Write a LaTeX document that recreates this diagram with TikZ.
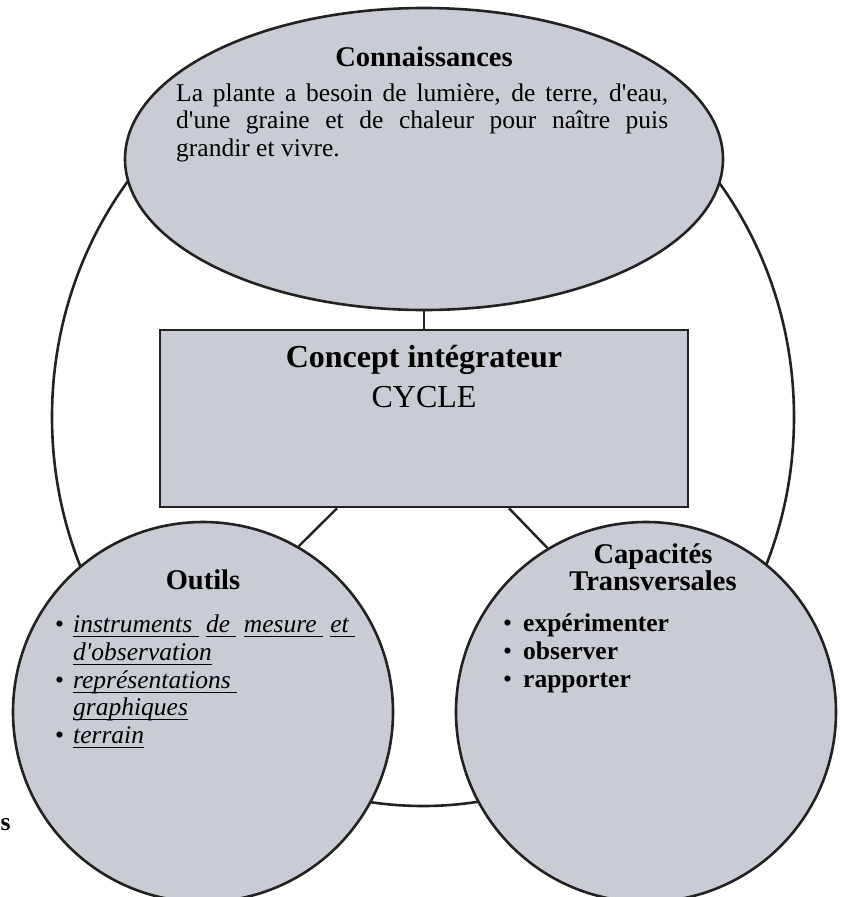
\documentclass[tikz,border=0pt]{standalone}
\usepackage{fontspec}
\defaultfontfeatures[\rmfamily]{}
\setmainfont{Liberation Serif}
\usetikzlibrary{shapes.geometric}
\definecolor{fillc}{RGB}{201,204,212}
\definecolor{linec}{RGB}{34,34,34}
\newcommand{\myul}[1]{{\setbox0\hbox{#1}\rlap{\rule[-5pt]{\wd0}{1.4pt}}\box0}}
\begin{document}
\begin{tikzpicture}[x=1pt,y=-1pt,
  shapefill/.style={draw=linec, line width=2.6pt, fill=fillc, inner sep=0pt},
  conn/.style={draw=linec, line width=2.4pt},
  ttl/.style={font=\fontsize{28.5}{30}\selectfont\bfseries, inner sep=0pt},
  bodyt/.style={font=\fontsize{25.5}{27.7}\selectfont, inner sep=0pt},
  itemt/.style={font=\fontsize{25.5}{27.7}\selectfont\itshape, inner sep=0pt},
  boldt/.style={font=\fontsize{25.5}{27.7}\selectfont\bfseries, inner sep=0pt},
  bigt/.style={font=\fontsize{32}{34}\selectfont, inner sep=0pt}]
\useasboundingbox (0,0) rectangle (841,897);
\fill[white] (0,0) rectangle (841,897);
% big surrounding circle
\node[ellipse, draw=linec, line width=2.6pt, minimum width=742pt, minimum height=778pt, inner sep=0pt] (big) at (423,417) {};
% shapes
\node[ellipse, shapefill, minimum width=598pt, minimum height=302pt] (conn) at (424,159) {};
\node[rectangle, shapefill, minimum width=528pt, minimum height=177pt] (rect) at (424,418.5) {};
\node[circle, shapefill, minimum size=380pt] (outils) at (203,712) {};
\node[circle, shapefill, minimum size=380pt] (capa) at (646,712) {};
% connectors
\draw[conn] (conn.south) -- (rect.north);
\draw[conn] ([xshift=-87pt]rect.south) -- (outils.60);
\draw[conn] ([xshift=85pt]rect.south) -- (capa.121);
% Connaissances
\node[ttl, anchor=base] (connt) at (424,66) {Connaissances};
\node[bodyt, anchor=base west] (c1) at (176,101) {\hbox to 492pt{\spaceskip=6.4pt plus 1fil\relax La plante a besoin de lumière, de terre, d'eau,}};
\node[bodyt, anchor=base west] (c2) at (176,128) {\hbox to 492pt{\spaceskip=6.4pt plus 1fil\relax d'une graine et de chaleur pour naître puis}};
\node[bodyt, anchor=base west] (c3) at (176,156) {grandir et vivre.};
% Concept
\node[bigt, anchor=base, font=\fontsize{32}{34}\selectfont\bfseries] (cpt) at (424,367) {Concept intégrateur};
\node[bigt, anchor=base] (cyc) at (424,407) {CYCLE};
% Outils
\node[ttl, anchor=base] (outt) at (203,589) {Outils};
\node[bodyt, anchor=base west] (ob1) at (55,632) {\textbullet};
\node[itemt, anchor=base west] (o1) at (73,632) {\hbox to 282pt{\myul{instruments\ }\hfill\myul{de\ }\hfill\myul{mesure\ }\hfill\myul{et\ }}};
\node[itemt, anchor=base west] (o2) at (73,660) {\myul{d'observation}};
\node[bodyt, anchor=base west] (ob2) at (55,688) {\textbullet};
\node[itemt, anchor=base west] (o3) at (73,688) {\myul{représentations\ }};
\node[itemt, anchor=base west] (o4) at (73,715) {\myul{graphiques}};
\node[bodyt, anchor=base west] (ob3) at (55,743) {\textbullet};
\node[itemt, anchor=base west] (o5) at (73,743) {\myul{terrain}};
% Capacites
\node[ttl, anchor=base] (capt1) at (653,563) {Capacités};
\node[ttl, anchor=base] (capt2) at (653,590) {Transversales};
\node[bodyt, anchor=base west] (cb1) at (503,631) {\textbullet};
\node[boldt, anchor=base west] (ca1) at (523,631) {expérimenter};
\node[bodyt, anchor=base west] (cb2) at (503,659) {\textbullet};
\node[boldt, anchor=base west] (ca2) at (523,659) {observer};
\node[bodyt, anchor=base west] (cb3) at (503,687) {\textbullet};
\node[boldt, anchor=base west] (ca3) at (523,687) {rapporter};
% stray letter
\node[boldt, anchor=base west] (stray) at (0.5,830) {s};
\end{tikzpicture}
\end{document}
